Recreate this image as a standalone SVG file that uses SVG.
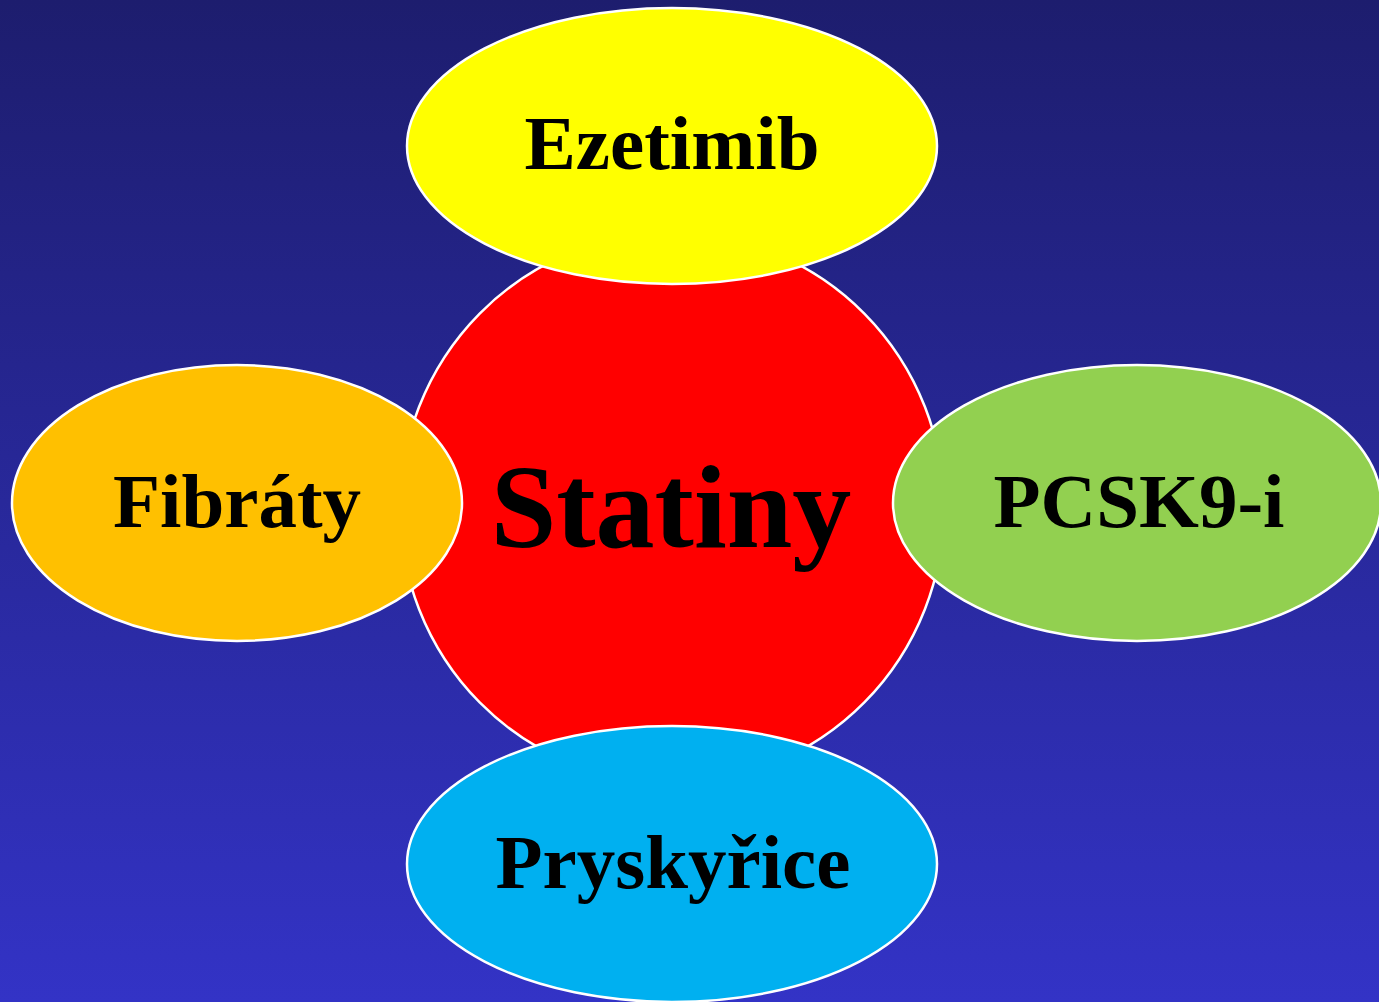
<svg xmlns="http://www.w3.org/2000/svg" width="1379" height="1002" viewBox="0 0 1379 1002">
<defs>
<linearGradient id="bg" x1="0" y1="0" x2="0" y2="1">
<stop offset="0" stop-color="#1d1d6e"/>
<stop offset="1" stop-color="#3333c6"/>
</linearGradient>
</defs>
<style>
.shape{stroke:#ffffff;stroke-width:2.5}
.lbl{font-family:"Liberation Serif","Times New Roman",serif;font-weight:bold;font-size:77px;fill:#000000;text-anchor:middle}
</style>
<rect x="0" y="0" width="1379" height="1002" fill="url(#bg)"/>
<g id="connectors"></g>
<g id="statiny">
<ellipse class="shape" cx="672" cy="508" rx="272" ry="275" fill="#ff0000"/>
<text class="lbl" x="671" y="547" style="font-size:118px">Statiny</text>
</g>
<g id="ezetimib">
<ellipse class="shape" cx="672" cy="146" rx="265" ry="138" fill="#ffff00"/>
<text class="lbl" x="672" y="169">Ezetimib</text>
</g>
<g id="fibraty">
<ellipse class="shape" cx="237" cy="503" rx="225" ry="138" fill="#ffc000"/>
<text class="lbl" x="237" y="527">Fibráty</text>
</g>
<g id="pcsk9">
<ellipse class="shape" cx="1137" cy="503" rx="244" ry="138" fill="#92d050"/>
<text class="lbl" x="1139" y="527">PCSK9-i</text>
</g>
<g id="pryskyrice">
<ellipse class="shape" cx="672" cy="864" rx="265" ry="138" fill="#00b0f0"/>
<text class="lbl" x="673" y="888">Pryskyřice</text>
</g>
</svg>
